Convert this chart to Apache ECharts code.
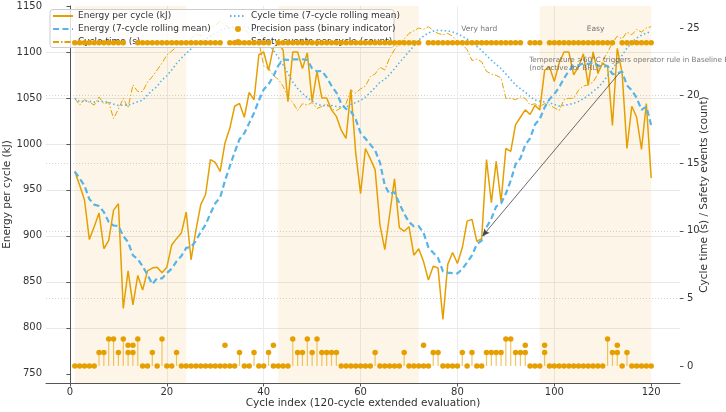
<!DOCTYPE html>
<html>
<head>
<meta charset="utf-8">
<script src="https://cdn.jsdelivr.net/npm/echarts@6/dist/echarts.min.js"></script>
<style>
  html, body { margin: 0; padding: 0; background: #fff; }
  #chart { width: 726px; height: 412px; }
</style>
</head>
<body>
<div id="chart"></div>
<script>
// values, one per cycle (1..120)
const energy = [
  970, 955, 939, 896, 910, 925, 886, 895, 928, 935,
  821, 862, 825, 857, 841, 862, 865, 866, 860, 866,
  890, 897, 903, 926, 874, 906, 934, 945, 983, 980,
  970, 1001, 1017, 1041, 1044, 1029, 1056, 1048, 1097, 1100,
  1080, 1105, 1110, 1102, 1046, 1100, 1100, 1082, 1099, 1046,
  1079, 1050, 1050, 1037, 1030, 1015, 1006, 1059, 990, 946,
  995, 984, 972, 912, 885, 923, 962, 909, 905, 910,
  879, 886, 872, 852, 867, 865, 809, 869, 882, 870,
  887, 916, 918, 894, 897, 983, 936, 981, 937, 995,
  992, 1021, 1029, 1037, 1032, 1042, 1037, 1080, 1084, 1068,
  1088, 1100, 1100, 1075, 1084, 1098, 1064, 1100, 1077, 1088,
  1084, 1020, 1104, 1077, 995, 1041, 1029, 994, 1044, 963
]
const energyMean = [
  970, 962.5, 954.7, 940, 934, 932.5, 925.9, 915.1, 911.3, 910.7,
  900, 893.1, 878.9, 874.7, 867, 857.6, 847.6, 854, 853.7, 859.6,
  864.3, 872.3, 878.1, 886.9, 888, 894.6, 904.3, 912.1, 924.4, 935.4,
  941.7, 959.9, 975.7, 991, 1005.1, 1011.7, 1022.6, 1033.7, 1047.4, 1059.3,
  1064.9, 1073.6, 1085.1, 1091.7, 1091.4, 1091.9, 1091.9, 1092.1, 1091.3, 1082.1,
  1078.9, 1079.4, 1072.3, 1063.3, 1055.9, 1043.9, 1038.1, 1035.3, 1026.7, 1011.9,
  1005.9, 999.3, 993.1, 979.7, 954.9, 945.3, 947.6, 935.3, 924, 915.1,
  910.4, 910.6, 903.3, 887.6, 881.6, 875.9, 861.4, 860, 859.4, 859.1,
  864.1, 871.1, 878.7, 890.9, 894.9, 909.3, 918.7, 932.1, 935.1, 946.1,
  960.1, 977.9, 984.4, 998.9, 1006.1, 1021.1, 1027.1, 1039.7, 1048.7, 1054.3,
  1061.6, 1071.3, 1079.6, 1085, 1085.6, 1087.6, 1087, 1088.7, 1085.4, 1083.7,
  1085, 1075.9, 1076.7, 1078.6, 1063.6, 1058.4, 1050, 1037.1, 1040.6, 1020.4
]
const cycleTime = [
  19.8, 19.3, 19.7, 19.5, 19.3, 19.9, 19.4, 19.5, 18.3, 19.0,
  19.8, 19.1, 20.8, 20.3, 20.3, 21.0, 21.4, 21.9, 22.4, 23.0,
  23.3, 23.6, 23.8, 23.9, 24.2, 24.6, 24.4, 24.8, 25.0, 25.2,
  25.5, 25.2, 25.0, 25.1, 24.8, 24.9, 24.6, 24.3, 24.0, 22.2,
  22.0, 21.5, 21.2, 20.7, 19.9, 19.5, 18.9, 19.4, 19.3, 19.5,
  19.05, 19.2, 19.4, 19.0, 18.9, 19.1, 19.4, 20.4, 20.2, 20.5,
  20.7, 21.4, 21.6, 22.1, 21.9, 22.8, 23.4, 23.9, 24.2, 24.6,
  24.8, 25.0, 24.9, 25.1, 24.8, 24.6, 24.5, 24.6, 24.4, 24.0,
  23.8, 23.4, 22.6, 22.7, 22.5, 21.8, 21.6, 21.5, 21.3, 19.8,
  19.8, 19.7, 19.9, 19.8, 19.3, 19.4, 19.2, 19.4, 19.3, 19.1,
  18.9, 19.7, 19.8, 19.8, 20.4, 20.7, 20.8, 21.0, 21.6, 22.6,
  23.2, 23.9, 24.4, 24.2, 24.7, 24.5, 24.9, 24.7, 25.0, 25.1
]
const cycleTimeMean = [
  19.8, 19.55, 19.6, 19.58, 19.52, 19.58, 19.56, 19.51, 19.37, 19.27,
  19.31, 19.29, 19.41, 19.54, 19.66, 20.04, 20.39, 20.69, 21.16, 21.47,
  21.9, 22.37, 22.77, 23.13, 23.46, 23.77, 23.97, 24.19, 24.39, 24.59,
  24.81, 24.96, 25.01, 25.11, 25.11, 25.1, 25.01, 24.84, 24.67, 24.27,
  23.83, 23.36, 22.83, 22.27, 21.64, 21.0, 20.53, 20.16, 19.84, 19.6,
  19.36, 19.26, 19.25, 19.26, 19.19, 19.16, 19.15, 19.34, 19.49, 19.64,
  19.89, 20.24, 20.6, 20.99, 21.2, 21.57, 21.99, 22.44, 22.84, 23.27,
  23.66, 24.1, 24.4, 24.64, 24.77, 24.83, 24.81, 24.79, 24.7, 24.57,
  24.39, 24.19, 23.9, 23.64, 23.34, 22.97, 22.63, 22.3, 22.0, 21.6,
  21.19, 20.79, 20.51, 20.26, 19.94, 19.67, 19.59, 19.53, 19.47, 19.36,
  19.23, 19.29, 19.34, 19.43, 19.57, 19.77, 20.01, 20.31, 20.59, 20.99,
  21.47, 21.97, 22.5, 22.99, 23.51, 23.93, 24.26, 24.47, 24.63, 24.73
]
// 1 = pass, 0 = fail
const precisionPass = [
  1, 1, 1, 1, 1, 1, 1, 1, 1, 1,
  1, 0, 0, 1, 1, 1, 1, 1, 1, 1,
  1, 1, 1, 1, 1, 1, 1, 1, 1, 1,
  1, 0, 1, 1, 1, 1, 1, 1, 1, 1,
  1, 0, 1, 1, 1, 1, 1, 1, 1, 1,
  1, 1, 1, 1, 1, 1, 1, 1, 1, 1,
  1, 1, 1, 1, 1, 1, 1, 1, 1, 1,
  1, 1, 0, 1, 1, 1, 1, 1, 1, 1,
  1, 1, 1, 1, 1, 1, 1, 1, 1, 1,
  1, 1, 1, 0, 1, 1, 1, 0, 1, 1,
  1, 1, 1, 1, 1, 1, 1, 1, 1, 1,
  1, 1, 0, 1, 1, 1, 1, 1, 1, 1
]
const safetyEvents = [
  0, 0, 0, 0, 0, 1, 1, 2, 2, 1,
  2, 1, 1, 2, 0, 0, 1, 0, 2, 0,
  0, 1, 0, 0, 0, 0, 0, 0, 0, 0,
  0, 0, 0, 0, 1, 0, 0, 1, 0, 0,
  1, 0, 0, 0, 0, 2, 1, 1, 2, 1,
  2, 1, 1, 1, 1, 0, 0, 0, 0, 0,
  0, 0, 1, 0, 0, 0, 0, 0, 1, 0,
  0, 0, 0, 0, 1, 1, 0, 0, 0, 0,
  1, 0, 1, 0, 0, 1, 1, 1, 1, 2,
  2, 1, 1, 1, 0, 0, 0, 1, 0, 0,
  0, 0, 0, 0, 0, 0, 0, 0, 0, 0,
  2, 1, 1, 0, 1, 0, 0, 0, 0, 0
]
// difficulty segments [start, end, label, shaded]
const segments = [
  [1, 24, '', true],
  [43, 72, '', true],
  [73, 96, 'Very hard', false],
  [97, 120, 'Easy', true]
]
const xTicks = [0, 20, 40, 60, 80, 100, 120]
const yTicksLeft = [750, 800, 850, 900, 950, 1000, 1050, 1100, 1150]
const yTicksRight = [0, 5, 10, 15, 20, 25]

const ORANGE = '#E69F00'
const BLUE = '#56B4E9'
const FONT = 'DejaVu Sans'
const PASS_LEVEL = 1110   // where the pass markers sit on the energy axis
const FAIL_LEVEL = 781

const cycles = energy.map((_, i) => i + 1)
const pair = arr => arr.map((v, i) => [cycles[i], v])

const bands = segments.filter(s => s[3]).map(s => [{ xAxis: s[0] }, { xAxis: s[1] }])
const bandLabels = segments.filter(s => s[2]).map(s => ({
  value: [(s[0] + s[1]) / 2, 1125], label: { formatter: s[2] }
}))

// line entries: hide the marker ECharts puts in the middle of the legend line
const lineItem = name => ({ name: name, itemStyle: { opacity: 0 } })
const legendText = { fontSize: 9, color: '#333', lineHeight: 11, fontFamily: FONT }

const options = {
  animation: false,
  textStyle: { fontFamily: FONT },
  grid: { left: 46, right: 46, top: 6, bottom: 29, containLabel: false, outerBoundsMode: 'none' },
  legend: [
    {
      left: 47, top: 5.5, orient: 'vertical', itemGap: 2, itemWidth: 20, itemHeight: 9, z: 20,
      textStyle: legendText,
      data: [lineItem('Energy per cycle (kJ)'), lineItem('Energy (7-cycle rolling mean)'), lineItem('Cycle time (s)')]
    },
    {
      left: 224, top: 5.5, orient: 'vertical', itemGap: 2, itemWidth: 16, itemHeight: 6, z: 20,
      textStyle: legendText,
      data: [lineItem('Cycle time (7-cycle rolling mean)'), 'Precision pass (binary indicator)', 'Safety events per cycle (count)']
    }
  ],
  graphic: [{
    type: 'rect', z: 15, silent: true,
    shape: { x: 50, y: 9.5, width: 344, height: 38, r: 3 },
    style: { fill: 'rgba(255,255,255,0.8)', stroke: '#cccccc', lineWidth: 1 }
  }],
  xAxis: {
    type: 'value', min: -4.95, max: 125.95, splitNumber: 6,
    name: 'Cycle index (120-cycle extended evaluation)', nameLocation: 'middle', nameGap: 15, nameMoveOverlap: false,
    nameTextStyle: { fontSize: 10.5, color: '#333', fontFamily: FONT },
    axisLine: { show: true, onZero: false, lineStyle: { color: '#555', width: 1 } },
    axisTick: { show: true, length: 3.5, customValues: xTicks, lineStyle: { color: '#555' } },
    axisLabel: { fontSize: 10, color: '#333', margin: 4, customValues: xTicks,
      formatter: v => (xTicks.indexOf(v) >= 0 ? String(v) : '') },
    splitLine: { show: true, showMinLine: false, showMaxLine: false, lineStyle: { color: '#ececec', width: 1 } }
  },
  yAxis: [
    {
      type: 'value', min: 740, max: 1150, splitNumber: 8,
      name: 'Energy per cycle (kJ)', nameLocation: 'middle', nameGap: 33, nameRotate: 90, nameMoveOverlap: false,
      nameTextStyle: { fontSize: 10.5, color: '#333', fontFamily: FONT },
      axisLine: { show: true, lineStyle: { color: '#555', width: 1 } },
      axisTick: { show: true, length: 3.5, customValues: yTicksLeft, lineStyle: { color: '#555' } },
      axisLabel: { fontSize: 10, color: '#333', margin: 4, customValues: yTicksLeft,
        formatter: v => (yTicksLeft.indexOf(v) >= 0 ? String(v) : '') },
      splitLine: { show: true, showMinLine: false, showMaxLine: false, lineStyle: { color: '#e8e8e8', width: 1 } }
    },
    {
      type: 'value', position: 'right', min: -1.26, max: 26.63, splitNumber: 5,
      name: 'Cycle time (s) / Safety events (count)', nameLocation: 'middle', nameGap: 19, nameRotate: 90, nameMoveOverlap: false,
      nameTextStyle: { fontSize: 10.5, color: '#333', fontFamily: FONT },
      axisLine: { show: false },
      axisTick: { show: true, length: 3.5, customValues: yTicksRight, lineStyle: { color: '#555' } },
      axisLabel: { fontSize: 10, color: '#333', margin: 7, customValues: yTicksRight,
        formatter: v => (yTicksRight.indexOf(v) >= 0 ? String(v) : '') },
      splitLine: { show: true, showMinLine: false, showMaxLine: false, lineStyle: { color: '#d4d4d4', width: 1, type: [1, 2] } }
    }
  ],
  series: [
    {
      // shaded segments + their labels
      name: 'segments', type: 'scatter', yAxisIndex: 0, z: 1, silent: true,
      symbolSize: 0, data: bandLabels,
      label: { show: true, position: 'inside', fontSize: 7.5, color: '#555', fontFamily: FONT },
      markArea: { silent: true, itemStyle: { color: 'rgba(230,159,0,0.09)' }, data: bands }
    },
    {
      name: 'Energy per cycle (kJ)', type: 'line', yAxisIndex: 0, z: 3,
      symbol: 'none', data: pair(energy),
      lineStyle: { color: ORANGE, width: 1.5 }, itemStyle: { color: ORANGE }
    },
    {
      name: 'Energy (7-cycle rolling mean)', type: 'line', yAxisIndex: 0, z: 4,
      symbol: 'none', data: pair(energyMean),
      lineStyle: { color: BLUE, width: 2.2, type: [6, 3.5] }, itemStyle: { color: BLUE }
    },
    {
      name: 'Cycle time (s)', type: 'line', yAxisIndex: 1, z: 3,
      symbol: 'none', data: pair(cycleTime),
      lineStyle: { color: ORANGE, width: 1, type: [6, 2, 1.5, 2] }, itemStyle: { color: ORANGE }
    },
    {
      name: 'Cycle time (7-cycle rolling mean)', type: 'line', yAxisIndex: 1, z: 4,
      symbol: 'none', data: pair(cycleTimeMean),
      lineStyle: { color: BLUE, width: 1.6, type: [1.5, 2.5] }, itemStyle: { color: BLUE }
    },
    {
      // drawn above the legend box, as in the reference
      name: 'Precision pass (binary indicator)', type: 'scatter', yAxisIndex: 0, z: 25,
      symbolSize: 5.5, itemStyle: { color: ORANGE, opacity: 1 },
      data: precisionPass.map((p, i) => [cycles[i], p ? PASS_LEVEL : FAIL_LEVEL])
    },
    {
      name: 'Safety events per cycle (count)', type: 'scatter', yAxisIndex: 1, z: 5,
      symbolSize: 5.5, itemStyle: { color: ORANGE, opacity: 1 },
      data: pair(safetyEvents)
    },
    {
      name: 'Safety events per cycle (count)', type: 'bar', yAxisIndex: 1, z: 4,
      barWidth: 1.2, itemStyle: { color: 'rgba(230,159,0,0.6)' },
      data: pair(safetyEvents)
    },
    {
      // annotation text and arrow
      name: 'note', type: 'scatter', yAxisIndex: 0, z: 6, silent: true, symbolSize: 0,
      data: [{ value: [94.8, 1087], label: { formatter: 'Temperature >60°C triggers operator rule in Baseline B\n(not active for BRL)' } }],
      label: { show: true, position: 'right', distance: 0, fontSize: 7.2, lineHeight: 8, color: '#555', fontFamily: FONT, align: 'left' },
      markLine: {
        silent: true, symbol: ['none', 'arrow'], symbolSize: [5, 7], animation: false,
        label: { show: false },
        lineStyle: { color: '#444', width: 0.8, type: 'solid' },
        data: [[{ coord: [113.4, 1077] }, { coord: [85.2, 900] }]]
      }
    }
  ]
}

let chartEl

function init () {
  chartEl = echarts.init(document.getElementById('chart'), null, { renderer: 'canvas' })
}

function render () {
  chartEl.setOption(options)
}

init()
render()
</script>
</body>
</html>
